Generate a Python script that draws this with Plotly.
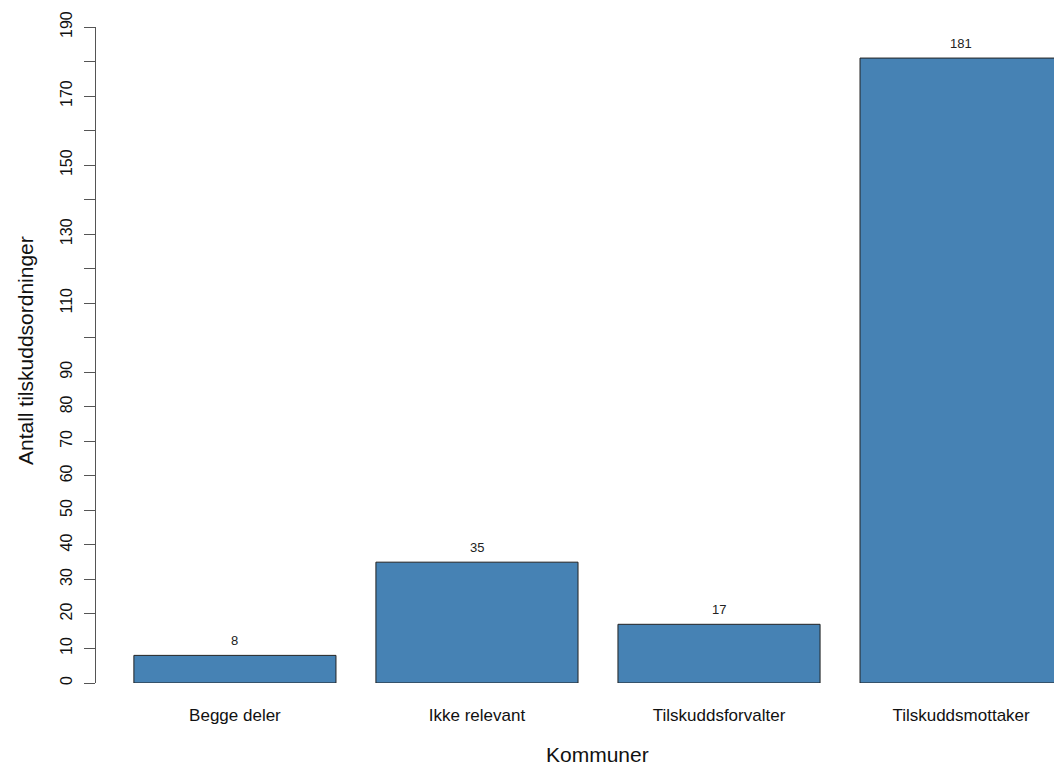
import plotly.graph_objects as go

categories = ["Begge deler", "Ikke relevant", "Tilskuddsforvalter", "Tilskuddsmottaker"]
values = [8, 35, 17, 181]
y_tick_vals = list(range(0, 191, 10))
y_tick_text = ["0", "10", "20", "30", "40", "50", "60", "70", "80", "90",
               "", "110", "", "130", "", "150", "", "170", "", "190"]

W, H = 1054, 765
L, R, T = 96, 0, 27
B = H - 683
FONT = "Liberation Sans, Arial, sans-serif"

fig = go.Figure()
fig.add_trace(go.Bar(
    x=categories, y=values,
    marker=dict(color="#4682B4", line=dict(color="#222222", width=1)),
    width=0.835,
))

for c, v in zip(categories, values):
    fig.add_annotation(x=c, y=v, text=str(v), showarrow=False, yshift=15,
                       yanchor="middle", font=dict(size=13, color="#222222", family=FONT))

plot_w = W - L - R
fig.add_annotation(xref="paper", yref="paper", x=(597 - L) / plot_w, y=0,
                   yshift=-(754 - 683), yanchor="middle", xanchor="center",
                   text="Kommuner", showarrow=False,
                   font=dict(size=21, color="#111111", family=FONT))
fig.add_annotation(xref="paper", yref="paper", x=(25 - L) / plot_w,
                   y=(683 - 351) / (683 - 27),
                   xanchor="center", yanchor="middle", textangle=-90,
                   text="Antall tilskuddsordninger", showarrow=False,
                   font=dict(size=21, color="#111111", family=FONT))

fig.update_layout(
    width=W, height=H,
    margin=dict(l=L, r=R, t=T, b=B),
    paper_bgcolor="white", plot_bgcolor="white",
    showlegend=False,
    font=dict(family=FONT, color="#111111"),
    xaxis=dict(range=[-0.574, 3.384], showline=False, showgrid=False, zeroline=False,
               ticks="outside", ticklen=17, tickcolor="rgba(0,0,0,0)",
               tickfont=dict(size=17, color="#111111", family=FONT)),
    yaxis=dict(range=[0, 190], showline=True, linecolor="#555555", linewidth=1,
               showgrid=False, zeroline=False,
               ticks="outside", ticklen=11, tickcolor="#555555", tickwidth=1,
               ticklabelstandoff=6,
               tickvals=y_tick_vals, ticktext=y_tick_text, tickangle=-90,
               tickfont=dict(size=16, color="#111111", family=FONT)),
)

fig.write_html(
    "out.html",
    config={"displayModeBar": False},
    post_script="document.body.style.margin='0';document.body.style.overflow='hidden';"
                "document.documentElement.style.overflow='hidden';",
)
